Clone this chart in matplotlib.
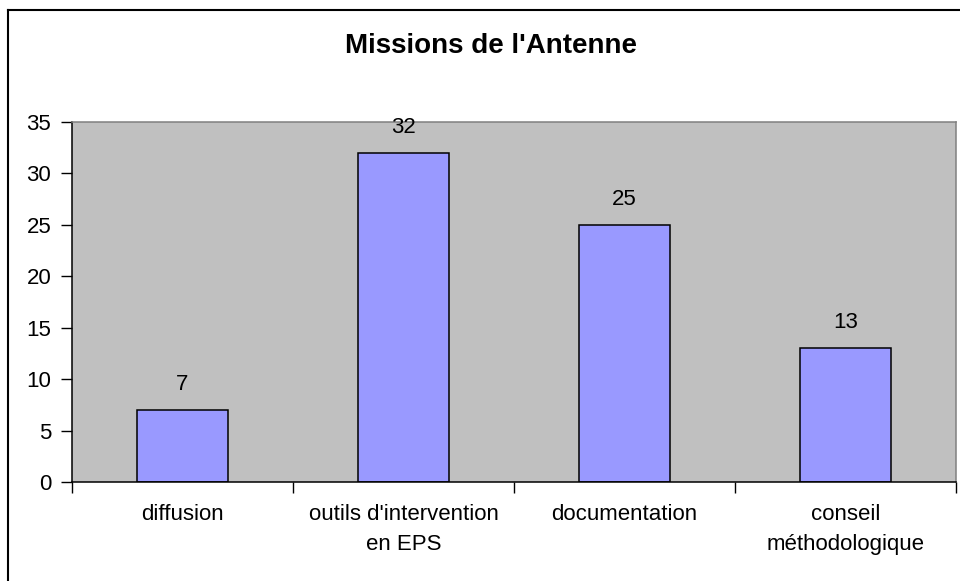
import matplotlib.pyplot as plt
from matplotlib.lines import Line2D

plt.rcParams['font.family'] = ['Liberation Sans', 'DejaVu Sans']

# Missions data
categories = ["diffusion", "outils d'intervention\nen EPS", "documentation", "conseil\nméthodologique"]
values = [7, 32, 25, 13]
yticks = [0, 5, 10, 15, 20, 25, 30, 35]

fig = plt.figure(figsize=(9.6, 5.81), dpi=100)
ax = fig.add_axes([72 / 960, 1 - 482 / 581, (956 - 72) / 960, (482 - 122) / 581])
ax.set_facecolor("#C0C0C0")

x = list(range(len(categories)))
bars = ax.bar(x, values, width=0.41, color="#9999FF", edgecolor="black", linewidth=1.1, zorder=2)
for xi, v in zip(x, values):
    ax.annotate(str(v), (xi, v), xytext=(0, 11), textcoords="offset points",
                ha="center", va="bottom", fontsize=16)

ax.set_xlim(-0.5, len(categories) - 0.5)
ax.set_ylim(0, 35)
ax.set_yticks(yticks)
ax.tick_params(axis="y", direction="out", length=8, width=1, pad=7, labelsize=16)

# category labels centered, ticks between categories
ax.set_xticks([i - 0.5 for i in range(len(categories) + 1)])
ax.set_xticklabels([])
ax.tick_params(axis="x", direction="out", length=8, width=1)
ax.set_xticks(x, minor=True)
ax.set_xticklabels(categories, minor=True, fontsize=16, linespacing=1.55)
ax.tick_params(axis="x", which="minor", length=0, pad=16)

ax.spines["left"].set_color("black")
ax.spines["bottom"].set_color("black")
ax.spines["top"].set_color("#808080")
ax.spines["right"].set_color("#808080")
for s in ax.spines.values():
    s.set_linewidth(1.1)

fig.text(491 / 960, 1 - 46 / 581, "Missions de l'Antenne", ha="center", va="center",
         fontsize=20, fontweight="bold")

# outer chart frame (cut at right and bottom)
fig.add_artist(Line2D([8 / 960, 8 / 960], [0, 1 - 10 / 581], color="black", lw=1.5))
fig.add_artist(Line2D([8 / 960, 1], [1 - 10 / 581, 1 - 10 / 581], color="black", lw=1.5))

fig.savefig("out.png", dpi=100)
